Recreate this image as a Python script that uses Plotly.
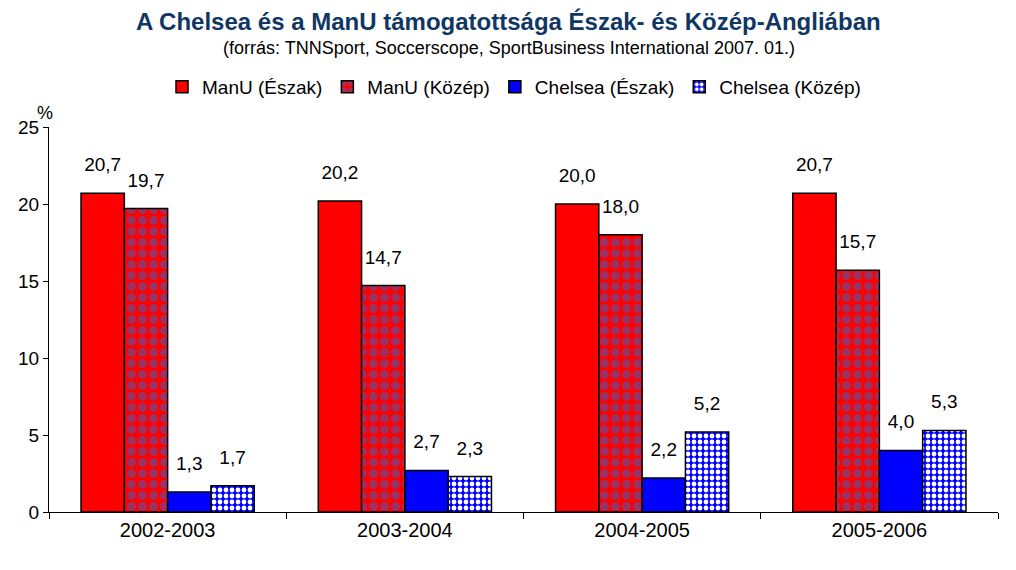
import plotly.graph_objects as go

seasons = ["2002-2003", "2003-2004", "2004-2005", "2005-2006"]
manu_eszak = [20.7, 20.2, 20.0, 20.7]
manu_kozep = [19.7, 14.7, 18.0, 15.7]
chelsea_eszak = [1.3, 2.7, 2.2, 4.0]
chelsea_kozep = [1.7, 2.3, 5.2, 5.3]

FONT = "Liberation Sans, Arial, sans-serif"
line = dict(color="black", width=1.5)

series = [
    ("ManU (Észak)", manu_eszak, dict(color="#FF0000", line=line)),
    ("ManU (Közép)", manu_kozep, dict(color="#FF0000", line=line,
                                      pattern=dict(shape=".", fgcolor="#993366", bgcolor="#FF0000",
                                                   size=11, solidity=0.5, fillmode="replace"))),
    ("Chelsea (Észak)", chelsea_eszak, dict(color="#0000FF", line=line)),
    ("Chelsea (Közép)", chelsea_kozep, dict(color="#0000FF", line=line,
                                            pattern=dict(shape=".", fgcolor="#FFFFFF", bgcolor="#0000FF",
                                                         size=6, solidity=0.5, fillmode="replace"))),
]

fig = go.Figure()
for i, (name, vals, marker) in enumerate(series):
    fig.add_trace(go.Bar(name=name, x=seasons, y=vals, marker=marker, offsetgroup=str(i)))
for i, (name, vals, marker) in enumerate(series):
    fig.add_trace(go.Scatter(x=seasons, y=vals, mode="markers+text", showlegend=False,
                             offsetgroup=str(i), hoverinfo="skip",
                             marker=dict(size=26, opacity=0),
                             texttemplate="%{y:.1f}", textposition="top center",
                             textfont=dict(size=19, color="black", family=FONT),
                             cliponaxis=False))

# page is rendered with an 8px body offset
M_T, M_B, M_L, M_R = 119, 66, 41, 26
plot_h = 570 - M_T - M_B

fig.update_layout(
    width=1016, height=570,
    paper_bgcolor="white", plot_bgcolor="white",
    separators=", ",
    barmode="group", bargap=0.27, bargroupgap=0,
    scattermode="group", scattergap=0.27,
    margin=dict(l=M_L, r=M_R, t=M_T, b=M_B, autoexpand=False),
    font=dict(family=FONT, size=16, color="black"),
    showlegend=True,
    legend=dict(orientation="h", x=0.49, xanchor="center", y=1 - 79 / 570, yanchor="middle",
                yref="container", font=dict(size=19, family=FONT),
                traceorder="normal", itemwidth=30),
    xaxis=dict(showline=True, linecolor="black", linewidth=1, ticks="outside",
               tickson="boundaries", ticklen=6, tickcolor="black", automargin=False,
               tickfont=dict(size=20), showgrid=False),
    yaxis=dict(range=[0, 25], dtick=5, showline=True, linecolor="black", linewidth=1,
               ticks="outside", ticklen=5, tickcolor="black", showgrid=False, automargin=False,
               zeroline=False, tickfont=dict(size=19)),
    annotations=[
        dict(text="<b>A Chelsea és a ManU támogatottsága Észak- és Közép-Angliában</b>",
             x=0.5, y=1 + (127 - 21) / plot_h, xref="paper", yref="paper", showarrow=False,
             yanchor="middle", xshift=-15,
             font=dict(size=24, color="#103763", family=FONT)),
        dict(text="(forrás: TNNSport, Soccerscope, SportBusiness International 2007. 01.)",
             x=0.5, y=1 + (127 - 48) / plot_h, xref="paper", yref="paper", showarrow=False,
             yanchor="middle", xshift=-15,
             font=dict(size=18, family=FONT)),
        dict(text="%", x=0, y=25, xref="paper", yref="y", showarrow=False,
             xanchor="center", yanchor="bottom", xshift=-4, yshift=2,
             font=dict(size=18, family=FONT)),
    ],
)

fig.write_html("out.html")
